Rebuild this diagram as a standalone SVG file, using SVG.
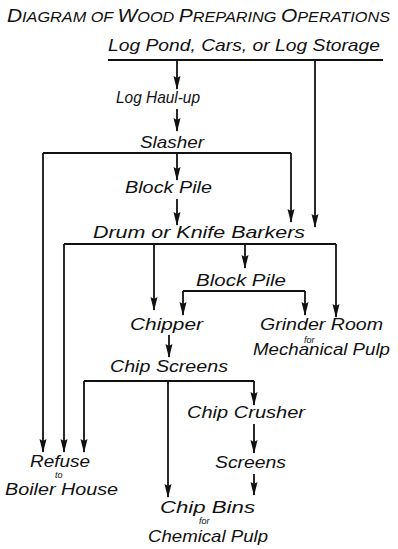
<svg xmlns="http://www.w3.org/2000/svg" width="398" height="549" viewBox="0 0 398 549">
<style>
text{font-family:"Liberation Sans",Arial,sans-serif;font-style:italic;font-size:17px;fill:#111}
.small{font-size:9px}
.t{font-size:14px}
.tb{font-size:18px}
#connectors path{fill:none;stroke:#111;stroke-width:1.8}
</style>
<defs>
<marker id="a" markerUnits="userSpaceOnUse" markerWidth="14" markerHeight="8" refX="13" refY="3.5" orient="auto" viewBox="0 0 14 7">
<path d="M0,0 L14,3.5 L0,7 L2,3.5 z" fill="#111"/>
</marker>
</defs>
<g id="title"><text x="7" y="22" textLength="383" lengthAdjust="spacingAndGlyphs"><tspan class="tb">D</tspan><tspan class="t">IAGRAM OF </tspan><tspan class="tb">W</tspan><tspan class="t">OOD </tspan><tspan class="tb">P</tspan><tspan class="t">REPARING </tspan><tspan class="tb">O</tspan><tspan class="t">PERATIONS</tspan></text></g>
<g id="log-pond"><text x="108" y="51" textLength="272" lengthAdjust="spacingAndGlyphs">Log Pond, Cars, or Log Storage</text></g>
<g id="log-haul-up"><text x="116" y="103" textLength="84" lengthAdjust="spacingAndGlyphs">Log Haul-up</text></g>
<g id="slasher"><text x="140" y="148" textLength="64" lengthAdjust="spacingAndGlyphs">Slasher</text></g>
<g id="block-pile-1"><text x="125" y="193" textLength="87" lengthAdjust="spacingAndGlyphs">Block Pile</text></g>
<g id="barkers"><text x="93" y="238" textLength="212" lengthAdjust="spacingAndGlyphs">Drum or Knife Barkers</text></g>
<g id="block-pile-2"><text x="196" y="286" textLength="90" lengthAdjust="spacingAndGlyphs">Block Pile</text></g>
<g id="chipper"><text x="130" y="330" textLength="73" lengthAdjust="spacingAndGlyphs">Chipper</text></g>
<g id="grinder-room"><text x="260" y="330" textLength="123" lengthAdjust="spacingAndGlyphs">Grinder Room</text><text class="small" x="304" y="343">for</text><text x="253" y="355" textLength="137" lengthAdjust="spacingAndGlyphs">Mechanical Pulp</text></g>
<g id="chip-screens"><text x="110" y="372" textLength="118" lengthAdjust="spacingAndGlyphs">Chip Screens</text></g>
<g id="chip-crusher"><text x="187" y="418" textLength="118" lengthAdjust="spacingAndGlyphs">Chip Crusher</text></g>
<g id="screens"><text x="215" y="468" textLength="71" lengthAdjust="spacingAndGlyphs">Screens</text></g>
<g id="refuse"><text x="30" y="467" textLength="60" lengthAdjust="spacingAndGlyphs">Refuse</text><text class="small" x="55" y="478">to</text><text x="5" y="495" textLength="113" lengthAdjust="spacingAndGlyphs">Boiler House</text></g>
<g id="chip-bins"><text x="160" y="513" textLength="95" lengthAdjust="spacingAndGlyphs">Chip Bins</text><text class="small" x="199" y="524">for</text><text x="148" y="542" textLength="120" lengthAdjust="spacingAndGlyphs">Chemical Pulp</text></g>
<g id="connectors">
<path d="M108,60 H383"/>
<path d="M177,60 V89" marker-end="url(#a)"/>
<path d="M315,60 V227" marker-end="url(#a)"/>
<path d="M177,109 V131" marker-end="url(#a)"/>
<path d="M43,153 H291"/>
<path d="M43,153 V452" marker-end="url(#a)"/>
<path d="M291,153 V222" marker-end="url(#a)"/>
<path d="M177,153 V180" marker-end="url(#a)"/>
<path d="M177,199 V225" marker-end="url(#a)"/>
<path d="M64,244 H336"/>
<path d="M64,244 V452" marker-end="url(#a)"/>
<path d="M154,244 V310" marker-end="url(#a)"/>
<path d="M245,244 V268" marker-end="url(#a)"/>
<path d="M336,244 V317" marker-end="url(#a)"/>
<path d="M183,291 H305"/>
<path d="M183,291 V315" marker-end="url(#a)"/>
<path d="M305,291 V315" marker-end="url(#a)"/>
<path d="M169,335 V357" marker-end="url(#a)"/>
<path d="M84,381 H254"/>
<path d="M84,381 V452" marker-end="url(#a)"/>
<path d="M168,381 V497" marker-end="url(#a)"/>
<path d="M254,381 V405" marker-end="url(#a)"/>
<path d="M254,424 V453" marker-end="url(#a)"/>
<path d="M254,474 V495" marker-end="url(#a)"/>
</g>
</svg>
